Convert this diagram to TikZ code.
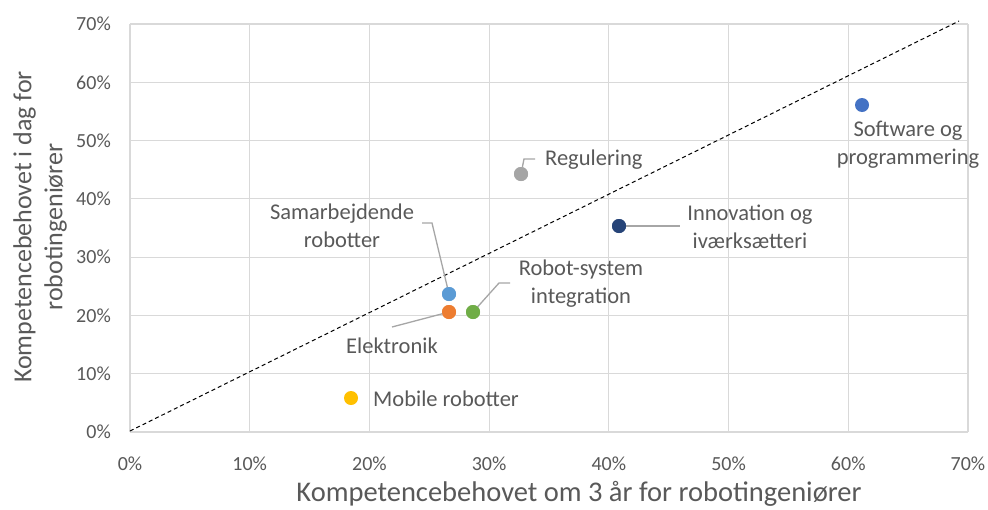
\documentclass[tikz,border=0pt]{standalone}
\usepackage{fontspec}
\setmainfont{Carlito}
\begin{document}
\begin{tikzpicture}[x=1pt,y=-1pt,
  gridline/.style={draw=gridgray,line width=1.2pt},
  txt/.style={text=txtgray,inner sep=0pt,font=\fontsize{22.5}{28}\selectfont},
  ticklab/.style={text=txtgray,inner sep=0pt,font=\fontsize{20}{24}\selectfont},
  axtitle/.style={text=txtgray,inner sep=0pt,font=\fontsize{28.5}{31}\selectfont,align=center},
  ytitlestyle/.style={text=txtgray,inner sep=0pt,font=\fontsize{26}{31}\selectfont,align=center},
  dot/.style={circle,inner sep=0pt,minimum size=14pt,fill=#1},
  leader/.style={draw=leadgray,line width=1.3pt}]
\definecolor{gridgray}{HTML}{D9D9D9}
\definecolor{txtgray}{HTML}{595959}
\definecolor{leadgray}{HTML}{A6A6A6}
\definecolor{cSoft}{HTML}{4472C4}
\definecolor{cReg}{HTML}{A5A5A5}
\definecolor{cInn}{HTML}{264478}
\definecolor{cSam}{HTML}{5B9BD5}
\definecolor{cEle}{HTML}{ED7D31}
\definecolor{cRob}{HTML}{70AD47}
\definecolor{cMob}{HTML}{FFC000}
\useasboundingbox[fill=white] (0,0) rectangle (988,509);
% grid
\foreach \i/\lab in {0/0\%,1/10\%,2/20\%,3/30\%,4/40\%,5/50\%,6/60\%,7/70\%}{
  \pgfmathsetmacro{\gx}{130+119.71*\i}
  \pgfmathsetmacro{\gy}{432-58.29*\i}
  \draw[gridline] (\gx,24) -- (\gx,432);
  \draw[gridline] (130,\gy) -- (968,\gy);
  \node[ticklab,anchor=east] (yt\i) at (111,\gy) {\lab};
  \node[ticklab] (xt\i) at (\gx,464) {\lab};
}
% diagonal
\draw[dashed,line width=1pt,dash pattern=on 4pt off 3pt] (130,431) -- (959,21);
% axis titles
\node[axtitle] (xtitle) at (579,494) {Kompetencebehovet om 3 år for robotingeniører};
\node[ytitlestyle,rotate=90] (ytitle) at (40,227) {Kompetencebehovet i dag for\\robotingeniører};
% dots
\node[dot=cSoft] (soft) at (862,105) {};
\node[dot=cReg] (reg) at (521,174) {};
\node[dot=cInn] (inn) at (619,226) {};
\node[dot=cSam] (sam) at (449,294) {};
\node[dot=cEle] (ele) at (449,312) {};
\node[dot=cRob] (rob) at (473,312) {};
\node[dot=cMob] (mob) at (351,398) {};
% labels
\node[txt,align=center] (softL) at (908,145) {Software og\\programmering};
\node[txt,anchor=west] (regL) at (545,160) {Regulering};
\node[txt,align=center] (innL) at (750,227) {Innovation og\\iværksætteri};
\node[txt,align=center] (samL) at (342,226) {Samarbejdende\\robotter};
\node[txt] (eleL) at (392,346) {Elektronik};
\node[txt,align=center] (robL) at (581,284) {Robot-system\\integration};
\node[txt,anchor=west] (mobL) at (373,399) {Mobile robotter};
% leaders
\coordinate (r1) at (524,159); \coordinate (r2) at (535,159);
\draw[leader] (reg) -- (r1) -- (r2);
\coordinate (i1) at (680,226);
\draw[leader] (inn.center) -- (i1);
\coordinate (s1) at (422,223); \coordinate (s2) at (432,223);
\draw[leader] (s1) -- (s2) -- (sam.center);
\coordinate (e1) at (392,327);
\draw[leader] (e1) -- (ele.center);
\coordinate (b1) at (499,283); \coordinate (b2) at (510,283);
\draw[leader] (rob.center) -- (b1) -- (b2);
% redraw dots on top
\foreach \n/\c in {reg/cReg,inn/cInn,sam/cSam,ele/cEle,rob/cRob}{
  \fill[\c] (\n.center) circle (7pt);
}
\end{tikzpicture}
\end{document}
